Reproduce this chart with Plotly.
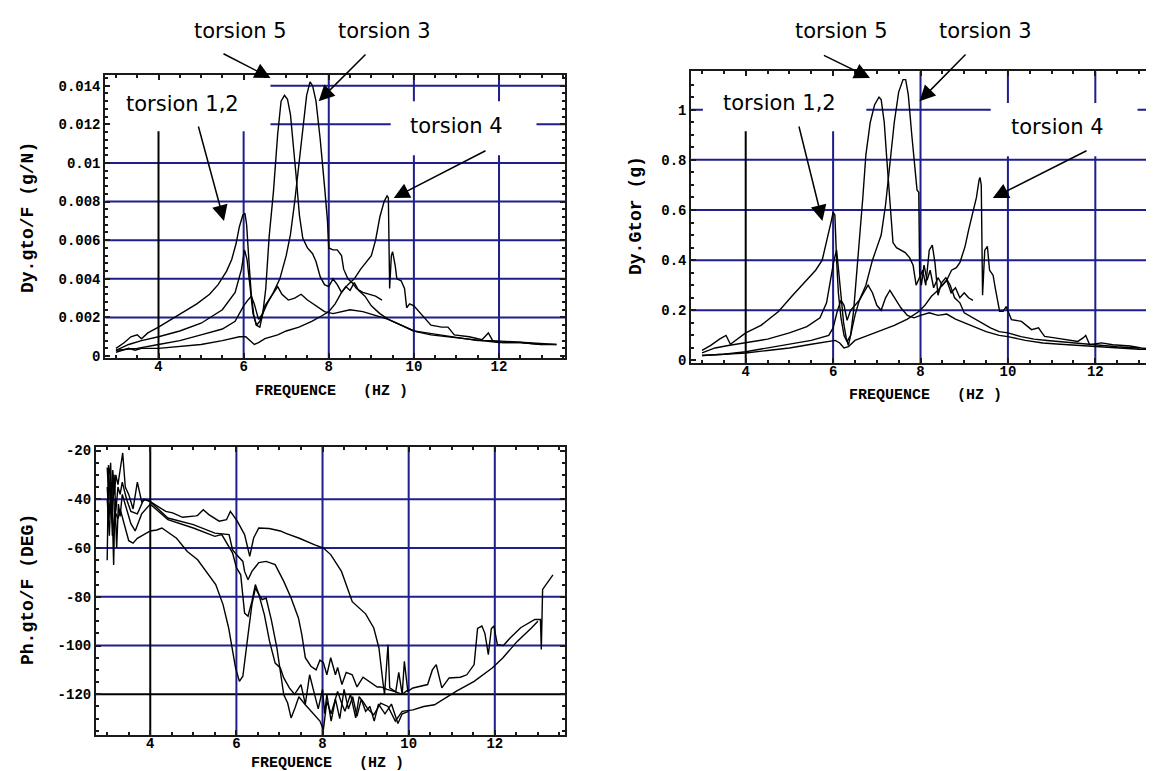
import plotly.graph_objects as go

# ---------------- data: top-left  Dy.gto/F (g/N) ----------------
tl_t12_f = [3.0, 3.2, 3.35, 3.5, 3.6, 3.75, 4.0, 4.3, 4.6, 4.9, 5.2, 5.4, 5.6, 5.72, 5.82, 5.9, 5.98, 6.03, 6.07, 6.1,
            6.14, 6.18, 6.24, 6.3, 6.38, 6.5, 6.65, 6.8, 6.9, 7.05, 7.2, 7.35, 7.5, 7.7, 7.9, 8.1, 8.3, 8.5, 8.8, 9.1,
            9.4, 9.7, 10.0, 10.4, 10.8, 11.2, 11.6, 12.0, 12.5, 13.0, 13.35]
tl_t12 = [0.0004, 0.0007, 0.0010, 0.0011, 0.0009, 0.0012, 0.0015, 0.0019, 0.0023, 0.0027, 0.0032, 0.0037, 0.0044,
          0.0050, 0.0058, 0.0067, 0.0073, 0.0074, 0.0068, 0.0056, 0.0044, 0.0032, 0.0021, 0.0016, 0.0018, 0.0026,
          0.0031, 0.0036, 0.0032, 0.0029, 0.0030, 0.0032, 0.0029, 0.0026, 0.0023, 0.0022, 0.0023, 0.0024, 0.0023,
          0.0021, 0.0019, 0.0016, 0.0013, 0.0011, 0.0010, 0.0009, 0.0008, 0.0007, 0.0007, 0.0006, 0.0006]

tl_t5_f = [3.0, 3.3, 3.6, 4.0, 4.5, 5.0, 5.5, 5.8, 5.95, 6.02, 6.08, 6.15, 6.22, 6.3, 6.38, 6.45, 6.52, 6.6, 6.7, 6.8,
           6.88, 6.96, 7.03, 7.1, 7.16, 7.23, 7.31, 7.39, 7.5, 7.62, 7.7, 7.8, 7.9, 8.0, 8.1, 8.2, 8.3, 8.4, 8.5, 8.6,
           8.7, 8.85, 9.0, 9.2, 9.4, 9.6, 9.8, 10.0, 10.3, 10.6, 10.9, 11.2, 11.5, 11.8, 12.1, 12.5, 13.0]
tl_t5 = [0.0003, 0.0006, 0.0008, 0.0010, 0.0013, 0.0017, 0.0024, 0.0033, 0.0045, 0.0055, 0.0050, 0.0035, 0.0022,
         0.0016, 0.0015, 0.0022, 0.0035, 0.0062, 0.0085, 0.0115, 0.0132, 0.0135, 0.0133, 0.0125, 0.0112, 0.0094,
         0.0073, 0.0061, 0.0056, 0.0053, 0.0049, 0.0041, 0.0037, 0.0036, 0.0040, 0.0037, 0.0033, 0.0036, 0.0034,
         0.0038, 0.0034, 0.0031, 0.0026, 0.0022, 0.0019, 0.0017, 0.0015, 0.0013, 0.0012, 0.0011, 0.0010, 0.0009,
         0.0008, 0.0008, 0.0007, 0.0007, 0.0006]

tl_t3_f = [3.0, 3.5, 4.0, 4.5, 5.0, 5.5, 5.8, 6.0, 6.1, 6.18, 6.25, 6.35, 6.45, 6.55, 6.7, 6.85, 7.0, 7.1, 7.2, 7.3,
           7.4, 7.48, 7.56, 7.62, 7.7, 7.8, 7.9, 7.97, 8.0, 8.1, 8.2, 8.3, 8.35, 8.45, 8.55, 8.65, 8.8, 8.95, 9.1, 9.25]
tl_t3 = [0.0003, 0.0004, 0.0006, 0.0008, 0.0011, 0.0014, 0.0018, 0.0026, 0.0029, 0.0031, 0.0027, 0.0019, 0.0022,
         0.0027, 0.0033, 0.0040, 0.0052, 0.0063, 0.0080, 0.0100, 0.0120, 0.0135, 0.0142, 0.0140, 0.0132, 0.0112,
         0.0088, 0.0070, 0.0056, 0.0055, 0.0055, 0.0052, 0.0045, 0.0040, 0.0038, 0.0035, 0.0033, 0.0032, 0.0031,
         0.0029]

tl_t4_f = [3.0, 3.3, 3.45, 3.6, 4.0, 4.5, 5.0, 5.5, 5.9, 6.05, 6.15, 6.25, 6.35, 6.5, 6.8, 7.0, 7.3, 7.6, 7.85, 8.0,
           8.15, 8.3, 8.45, 8.6, 8.75, 8.9, 9.0, 9.1, 9.2, 9.3, 9.37, 9.4, 9.43, 9.47, 9.5, 9.56, 9.6, 9.7, 9.78, 9.83,
           9.9, 10.0, 10.2, 10.4, 10.65, 10.8, 10.95, 11.3, 11.6, 11.75, 11.85, 12.2, 12.8, 13.35]
tl_t4 = [0.0002, 0.0004, 0.0003, 0.0004, 0.0004, 0.0005, 0.0006, 0.0008, 0.0010, 0.0010, 0.0008, 0.0006, 0.0007,
         0.0009, 0.0011, 0.0013, 0.0015, 0.0018, 0.0021, 0.0023, 0.0027, 0.0033, 0.0037, 0.0040, 0.0045, 0.0049,
         0.0052, 0.0060, 0.0072, 0.0080, 0.0083, 0.0082, 0.0035, 0.0052, 0.0054, 0.0047, 0.0040, 0.0039, 0.0035,
         0.0025, 0.0027, 0.0026, 0.0021, 0.0016, 0.0015, 0.0015, 0.0011, 0.0010, 0.00085, 0.0012, 0.0008, 0.00075,
         0.00068, 0.0006]

# ---------------- data: top-right  Dy.Gtor (g) ----------------
tr_t12_f = [3.0, 3.2, 3.4, 3.55, 3.65, 3.8, 4.0, 4.35, 4.75, 5.05, 5.35, 5.6, 5.75, 5.85, 5.95, 6.0, 6.04, 6.08, 6.12,
            6.18, 6.25, 6.32, 6.4, 6.5, 6.6, 6.7, 6.8, 6.9, 7.0, 7.1, 7.2, 7.3, 7.4, 7.55, 7.7, 7.85, 8.0, 8.2, 8.4,
            8.6, 8.8, 9.0, 9.2, 9.5, 9.8, 10.0, 10.4, 10.8, 11.2, 11.6, 12.0, 12.5, 13.0, 13.4]
tr_t12 = [0.04, 0.06, 0.085, 0.10, 0.065, 0.085, 0.11, 0.14, 0.195, 0.255, 0.31, 0.36, 0.40, 0.47, 0.55, 0.59, 0.58,
          0.40, 0.27, 0.17, 0.10, 0.075, 0.10, 0.18, 0.24, 0.27, 0.30, 0.27, 0.22, 0.20, 0.25, 0.28, 0.25, 0.21, 0.18,
          0.17, 0.18, 0.19, 0.18, 0.185, 0.165, 0.15, 0.135, 0.115, 0.10, 0.095, 0.08, 0.07, 0.065, 0.06, 0.055, 0.05,
          0.045, 0.045]

tr_t5_f = [3.0, 3.3, 3.6, 4.0, 4.5, 5.0, 5.4, 5.7, 5.85, 5.95, 6.02, 6.08, 6.13, 6.18, 6.24, 6.3, 6.35, 6.4, 6.47,
           6.53, 6.6, 6.68, 6.75, 6.85, 6.95, 7.05, 7.1, 7.17, 7.23, 7.3, 7.37, 7.45, 7.55, 7.65, 7.75, 7.83, 7.9,
           7.97, 8.05, 8.12, 8.2, 8.27, 8.33, 8.4, 8.48, 8.58, 8.68, 8.78, 8.9, 9.0, 9.2, 9.4, 9.6, 9.8, 10.0, 10.3,
           10.6, 10.9, 11.2, 11.5, 11.8, 12.1, 12.5, 13.0]
tr_t5 = [0.03, 0.05, 0.06, 0.07, 0.085, 0.11, 0.135, 0.17, 0.23, 0.33, 0.40, 0.44, 0.36, 0.26, 0.15, 0.09, 0.06, 0.10,
         0.20, 0.32, 0.48, 0.65, 0.82, 0.95, 1.02, 1.05, 1.04, 0.95, 0.80, 0.64, 0.47, 0.45, 0.44, 0.43, 0.41, 0.38,
         0.30, 0.33, 0.36, 0.30, 0.44, 0.46, 0.39, 0.26, 0.31, 0.33, 0.30, 0.25, 0.23, 0.19, 0.17, 0.15, 0.13, 0.115,
         0.11, 0.095, 0.085, 0.08, 0.075, 0.07, 0.065, 0.06, 0.055, 0.05]

tr_t3_f = [3.0, 3.5, 4.0, 4.5, 5.0, 5.5, 5.9, 6.0, 6.1, 6.18, 6.25, 6.32, 6.4, 6.5, 6.6, 6.75, 6.9, 7.0, 7.1, 7.2,
           7.3, 7.4, 7.5, 7.6, 7.66, 7.72, 7.8, 7.86, 7.92, 7.96, 7.98, 8.02, 8.08, 8.15, 8.22, 8.3, 8.4, 8.5, 8.6,
           8.7, 8.8, 8.9, 9.0, 9.1, 9.2]
tr_t3 = [0.02, 0.025, 0.035, 0.05, 0.065, 0.08, 0.10, 0.13, 0.20, 0.24, 0.22, 0.16, 0.20, 0.22, 0.24, 0.30, 0.40, 0.45,
         0.50, 0.62, 0.80, 0.95, 1.07, 1.12, 1.12, 1.06, 0.90, 0.78, 0.68, 0.67, 0.35, 0.30, 0.38, 0.32, 0.36, 0.29,
         0.33, 0.30, 0.32, 0.27, 0.29, 0.25, 0.27, 0.25, 0.24]

tr_t4_f = [3.0, 3.5, 4.0, 4.5, 5.0, 5.5, 5.9, 6.05, 6.15, 6.25, 6.35, 6.5, 6.8, 7.1, 7.4, 7.7, 7.97, 8.1, 8.25, 8.4,
           8.5, 8.6, 8.71, 8.82, 8.9, 9.02, 9.1, 9.17, 9.28, 9.34, 9.36, 9.39, 9.42, 9.47, 9.53, 9.58, 9.66, 9.72, 9.81,
           9.89, 9.96, 10.08, 10.31, 10.54, 10.7, 10.78, 10.84, 11.07, 11.3, 11.6, 11.72, 11.78, 11.87, 12.14, 12.4,
           12.8, 13.05, 13.4]
tr_t4 = [0.02, 0.025, 0.03, 0.04, 0.05, 0.065, 0.075, 0.08, 0.07, 0.05, 0.055, 0.08, 0.10, 0.12, 0.14, 0.165, 0.196,
         0.22, 0.256, 0.28, 0.30, 0.32, 0.36, 0.37, 0.39, 0.455, 0.52, 0.575, 0.65, 0.72, 0.73, 0.70, 0.26, 0.44,
         0.455, 0.36, 0.34, 0.28, 0.196, 0.196, 0.215, 0.163, 0.156, 0.123, 0.13, 0.11, 0.096, 0.09, 0.083, 0.076,
         0.09, 0.10, 0.063, 0.07, 0.063, 0.058, 0.05, 0.045]

# ---------------- data: bottom  Ph.gto/F (DEG) ----------------
ph_a_f = [3.0, 3.03, 3.07, 3.1, 3.13, 3.17, 3.2, 3.25, 3.3, 3.36, 3.42, 3.5, 3.6, 3.7, 3.8, 3.9, 4.0, 4.36, 4.52, 4.75,
          5.06, 5.1, 5.23, 5.36, 5.6, 5.77, 5.86, 6.02, 6.19, 6.31, 6.4, 6.52, 6.76, 7.02, 7.15, 7.46, 7.82, 8.02, 8.19,
          8.44, 8.69, 8.9, 9.0, 9.19, 9.31, 9.4, 9.44, 9.52, 9.56, 9.7, 9.77, 9.85, 9.9, 9.98, 10.1, 10.44, 10.55,
          10.64, 10.77, 10.94, 11.2, 11.35, 11.52, 11.6, 11.7, 11.77, 11.85, 11.92, 11.98, 12.06, 12.2, 12.35, 12.6,
          12.93, 13.06, 13.08, 13.11, 13.35]
ph_a = [-65, -26, -30, -45, -28, -38, -30, -34, -28, -21, -35, -38, -44, -33, -41, -40, -41, -45, -45.6, -47.4,
        -46.8, -46.6, -44.3, -46.3, -49, -48.4, -45, -49, -54.5, -63.4, -55.9, -51.8, -52, -53, -54, -56, -58.7, -60,
        -62.7, -69.6, -82, -85.3, -87, -92.8, -101, -114.7, -120.2, -99.7, -117.4, -119, -111, -120, -106.5, -118.8,
        -117.4, -116, -110, -107.8, -117.4, -113.3, -113, -112, -107.8, -93, -92, -95, -103.7, -93, -92, -99.7, -100,
        -97, -92.7, -89.3, -89.3, -101.6, -77, -71]

ph_b_f = [3.0, 3.04, 3.08, 3.12, 3.16, 3.2, 3.25, 3.3, 3.35, 3.45, 3.55, 3.7, 3.85, 4.0, 4.41, 5.0, 5.5, 5.83, 5.91,
          6.0, 6.15, 6.19, 6.27, 6.36, 6.52, 6.69, 6.9, 7.1, 7.27, 7.44, 7.52, 7.6, 7.73, 7.85, 7.94, 8.02, 8.1, 8.19,
          8.3, 8.35, 8.45, 8.55, 8.69, 8.8, 8.94, 9.1, 9.27, 9.35, 9.5, 9.7, 9.85, 10.0]
ph_b = [-27, -40, -25, -50, -30, -45, -35, -38, -33, -40, -45, -46, -40, -41, -47.7, -50.4, -53.9, -54.5, -60.7,
        -62.7, -65.5, -69.6, -73, -69.6, -66, -65.5, -66.8, -73.7, -80.5, -88.7, -95.6, -105, -108.5, -110, -106,
        -107, -112, -105, -112, -109, -116, -111, -112, -117, -113, -115, -117, -117, -118, -119, -120, -118]

ph_c_f = [3.0, 3.05, 3.1, 3.15, 3.18, 3.22, 3.26, 3.3, 3.35, 3.45, 3.55, 3.65, 3.8, 4.0, 4.41, 5.0, 5.5, 5.66, 5.83,
          5.91, 6.0, 6.1, 6.19, 6.27, 6.36, 6.44, 6.52, 6.6, 6.69, 6.81, 6.94, 7.02, 7.1, 7.19, 7.27, 7.36, 7.45, 7.6,
          7.77, 7.94, 8.02, 8.1, 8.2, 8.35, 8.45, 8.52, 8.65, 8.77, 8.85, 8.94, 9.05, 9.19, 9.35, 9.52, 9.69, 9.85,
          10.1, 10.35, 10.6, 10.85, 11.1, 11.52, 11.94, 12.19, 12.52, 12.85, 13.0]
ph_c = [-40, -55, -33, -67, -40, -60, -42, -47, -38, -44, -50, -53, -46, -42, -48.4, -51.8, -55.2, -54.5, -59.4,
        -62, -68, -71, -86.7, -88, -81.9, -75, -79, -81.2, -80.5, -89.4, -101, -110.6, -120.2, -123.6, -129.7,
        -125.6, -121, -124.3, -127.7, -131, -134.5, -122.9, -128, -118.8, -124, -127, -120, -129.7, -121, -123,
        -126, -128.4, -123.6, -125, -131, -127, -126.4, -125, -124.3, -121.6, -118.8, -114.7, -109.2, -105, -98.3,
        -92.8, -90]

ph_d_f = [3.0, 3.04, 3.08, 3.12, 3.18, 3.25, 3.3, 3.4, 3.5, 3.6, 3.7, 3.8, 3.9, 4.0, 4.15, 4.27, 4.61, 4.86, 5.1,
          5.36, 5.52, 5.69, 5.82, 5.9, 5.98, 6.07, 6.15, 6.27, 6.36, 6.44, 6.52, 6.65, 6.77, 6.9, 7.02, 7.1, 7.23,
          7.35, 7.5, 7.6, 7.7, 7.8, 7.9, 8.0, 8.05, 8.1, 8.2, 8.3, 8.4, 8.5, 8.6, 8.7, 8.8, 8.9, 9.0, 9.1, 9.2, 9.3,
          9.45, 9.6, 9.75, 9.85, 10.0]
ph_d = [-35, -48, -36, -55, -45, -48, -44, -50, -57, -58, -56, -55, -54, -53, -52.6, -51.8, -56, -61.4, -64.8, -71,
        -75, -83.2, -92.8, -101, -109.2, -114.7, -112.6, -95.6, -83.2, -76.4, -79, -87.4, -98.3, -107.2, -109.2,
        -113.3, -117.4, -120, -116, -124, -112, -119, -126, -118, -128, -120, -131, -122, -130, -118, -126, -121,
        -129, -122, -127, -125, -131, -124, -128, -124, -132, -128, -127]

# ---------------- ticks / labels ----------------
freq_ticks = [4, 6, 8, 10, 12]
freq_labels = ["4", "6", "8", "10", "12"]
tl_yticks = [0, 0.002, 0.004, 0.006, 0.008, 0.010, 0.012, 0.014]
tl_ylabels = ["0", "0.002", "0.004", "0.006", "0.008", "0.01", "0.012", "0.014"]
tr_yticks = [0, 0.2, 0.4, 0.6, 0.8, 1.0]
tr_ylabels = ["0", "0.2", "0.4", "0.6", "0.8", "1"]
ph_yticks = [-120, -100, -80, -60, -40, -20]
ph_ylabels = ["-120", "-100", "-80", "-60", "-40", "-20"]

x_title = "FREQUENCE   (HZ )"
tl_title = "Dy.gto/F (g/N)"
tr_title = "Dy.Gtor (g)"
ph_title = "Ph.gto/F (DEG)"

W, H = 1154, 771
GRID = "#1e1e8c"
FRAME = "#1a1a1a"
MONO = "Liberation Mono"
TICKFONT = dict(family=MONO, size=14, color="black", weight="bold")

fig = go.Figure()


def add_curve(xs, ys, xa, ya):
    fig.add_trace(go.Scatter(x=xs, y=ys, mode="lines", xaxis=xa, yaxis=ya,
                             line=dict(color="black", width=1.4), showlegend=False, hoverinfo="skip"))


for xs, ys in [(tl_t12_f, tl_t12), (tl_t5_f, tl_t5), (tl_t3_f, tl_t3), (tl_t4_f, tl_t4)]:
    add_curve(xs, ys, "x", "y")
for xs, ys in [(tr_t12_f, tr_t12), (tr_t5_f, tr_t5), (tr_t3_f, tr_t3), (tr_t4_f, tr_t4)]:
    add_curve(xs, ys, "x2", "y2")
for xs, ys in [(ph_a_f, ph_a), (ph_b_f, ph_b), (ph_c_f, ph_c), (ph_d_f, ph_d)]:
    add_curve(xs, ys, "x3", "y3")


def px_dom(a, b, total):
    return [a / total, b / total]


def py_dom(top, bottom):
    return [1 - bottom / H, 1 - top / H]


def xaxis(dom, rng, anchor):
    return dict(domain=dom, range=rng, anchor=anchor, tickmode="array", tickvals=freq_ticks, ticktext=freq_labels,
                showline=True, linecolor=FRAME, linewidth=2, mirror="allticks", ticks="inside", ticklen=5,
                tickwidth=1.5, tickcolor=FRAME, showgrid=False, zeroline=False, tickfont=TICKFONT,
                ticklabelstandoff=-6,
                minor=dict(dtick=0.5, tick0=0, ticks="inside", ticklen=3, tickwidth=1.5, tickcolor=FRAME,
                           showgrid=False))


def yaxis(dom, rng, anchor, tv, tt, mdt):
    return dict(domain=dom, range=rng, anchor=anchor, tickmode="array", tickvals=tv, ticktext=tt,
                showline=True, linecolor=FRAME, linewidth=2, mirror="allticks", ticks="inside", ticklen=5,
                tickwidth=1.5, tickcolor=FRAME, showgrid=False, zeroline=False, tickfont=TICKFONT,
                minor=dict(dtick=mdt, tick0=0, ticks="inside", ticklen=3, tickwidth=1.5, tickcolor=FRAME,
                           showgrid=False))


tl_xr, tl_yr = [2.75, 13.55], [-0.0001, 0.01457]
tr_xr, tr_yr = [2.755, 13.48], [-0.01, 1.153]
ph_xr, ph_yr = [2.74, 13.63], [-136.7, -18.44]

layout = dict(
    width=W, height=H, autosize=False, margin=dict(l=0, r=0, t=0, b=0),
    paper_bgcolor="white", plot_bgcolor="white", template="none", showlegend=False,
    xaxis=xaxis(px_dom(97.3, 557, W), tl_xr, "y"),
    yaxis=yaxis(py_dom(66.7, 350), tl_yr, "x", tl_yticks, tl_ylabels, 0.0004),
    xaxis2=xaxis(px_dom(683.3, 1152, W), tr_xr, "y2"),
    yaxis2=yaxis(py_dom(63.3, 355), tr_yr, "x2", tr_yticks, tr_ylabels, 0.05),
    xaxis3=xaxis(px_dom(88, 557, W), ph_xr, "y3"),
    yaxis3=yaxis(py_dom(438.7, 727), ph_yr, "x3", ph_yticks, ph_ylabels, 5),
)
fig.update_layout(**layout)

shapes = []


def vline(xr, yr, x, y0, y1, color):
    shapes.append(dict(type="line", xref=xr, yref=yr, x0=x, x1=x, y0=y0, y1=y1, layer="between",
                       line=dict(color=color, width=2)))


def hline(xr, yr, y, x0, x1, color):
    shapes.append(dict(type="line", xref=xr, yref=yr, x0=x0, x1=x1, y0=y, y1=y, layer="between",
                       line=dict(color=color, width=2)))


def wbox(xr, yr, x0, x1, y0, y1):
    shapes.append(dict(type="rect", xref=xr, yref=yr, x0=x0, x1=x1, y0=y0, y1=y1, layer="between",
                       fillcolor="white", line=dict(width=0)))


# grids
for (xr, yr, xrng, yrng, yt, blackx, blacky) in [
        ("x", "y", tl_xr, tl_yr, tl_yticks[1:], 4, None),
        ("x2", "y2", tr_xr, tr_yr, tr_yticks[1:], 4, None),
        ("x3", "y3", ph_xr, ph_yr, ph_yticks[:-1], 4, -120)]:
    for t in yt:
        hline(xr, yr, t, xrng[0], xrng[1], "black" if t == blacky else GRID)
    for t in freq_ticks:
        vline(xr, yr, t, yrng[0], yrng[1], "black" if t == blackx else GRID)

# white label backgrounds covering the grid
wbox("x", "y", tl_xr[0], 6.63, 0.01164, tl_yr[1])
wbox("x", "y", 9.456, 12.88, 0.0104, 0.0132)
wbox("x2", "y2", 3.02, 6.76, 0.914, tr_yr[1])
wbox("x2", "y2", 9.606, 12.966, 0.814, 1.027)

fig.update_layout(shapes=shapes)

ann = []
LBL = dict(family="DejaVu Sans", size=21, color="black")


def label(text, cx, cy):
    ann.append(dict(text=text, x=cx / W, y=1 - cy / H, xref="paper", yref="paper", showarrow=False,
                    font=LBL, xanchor="center", yanchor="middle"))


def arrow(tail, tip):
    ann.append(dict(text="", x=tip[0] / W, y=1 - tip[1] / H, xref="paper", yref="paper", showarrow=True,
                    ax=tail[0] - tip[0], ay=tail[1] - tip[1], arrowhead=2, arrowsize=2.1, arrowwidth=1.5,
                    arrowcolor="black", standoff=0))


# top-left labels
label("torsion 5", 232, 23)
arrow((214, 45), (262.5, 70))
label("torsion 3", 376, 23)
arrow((359, 45), (310.7, 93.3))
label("torsion 1,2", 174, 96)
arrow((190, 117), (216, 213))
label("torsion 4", 448, 118)
arrow((479, 142), (385.7, 190))
# top-right labels
label("torsion 5", 833, 23)
arrow((814.4, 46.7), (862, 70))
label("torsion 3", 977, 23)
arrow((959, 45), (911.5, 93.3))
label("torsion 1,2", 771, 95)
arrow((790.6, 117), (814.4, 213))
label("torsion 4", 1049, 119)
arrow((1080, 142), (984.8, 190))

TITLE = dict(family=MONO, size=15, color="black", weight="bold")
YT = dict(family=MONO, size=18, color="black", weight="bold")


def text(t, cx, cy, font, angle=0):
    ann.append(dict(text=t, x=cx / W, y=1 - cy / H, xref="paper", yref="paper", showarrow=False, font=font,
                    textangle=angle, xanchor="center", yanchor="middle"))


text(x_title, 323, 383, TITLE)
text(x_title, 918, 387, TITLE)
text(x_title, 319, 755, TITLE)
text(tl_title, 20, 210, YT, -90)
text(tr_title, 628, 208, YT, -90)
text(ph_title, 20, 582, YT, -90)

fig.update_layout(annotations=ann)
fig.write_html("out.html")
